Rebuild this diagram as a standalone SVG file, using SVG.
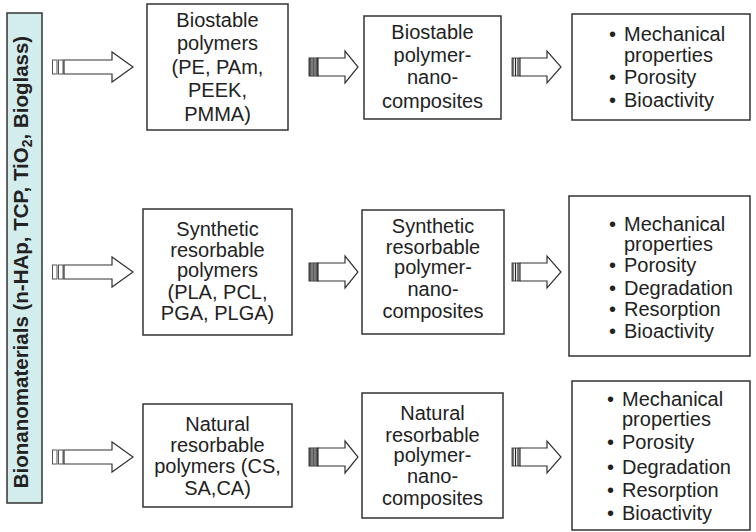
<svg xmlns="http://www.w3.org/2000/svg" width="756" height="532" viewBox="0 0 756 532">
<style>
  .box { fill: #ffffff; stroke: #333333; stroke-width: 1.5; }
  .bar { fill: #d3ecec; stroke: #333333; stroke-width: 1.5; }
  .t { font-family: "Liberation Sans", Arial, sans-serif; font-size: 20px; fill: #222222; }
  .c { text-anchor: middle; }
  .bt { font-family: "Liberation Sans", Arial, sans-serif; font-size: 20.5px; font-weight: bold; fill: #222222; text-anchor: middle; }
  .arr { fill: #ffffff; stroke: #333333; stroke-width: 1.2; stroke-linejoin: miter; }
  .hol { fill: #ffffff; stroke: #555555; stroke-width: 1; }
  .dk { fill: #5a5a5a; stroke: #333333; stroke-width: 1; }
  .ln { stroke: #9a9a9a; stroke-width: 1; }
  .bk { stroke: #222222; stroke-width: 1.2; }
</style>
<defs>
  <g id="arrowA">
    <rect class="hol" x="52.5" y="-7" width="4.5" height="14"/>
    <rect class="hol" x="58.5" y="-7" width="4.5" height="14"/>
    <path class="arr" d="M64,-7 L112,-7 L112,-15 L133,0 L112,15 L112,7 L64,7 Z"/>
  </g>
  <g id="arrowB">
    <rect class="dk" x="309" y="-9" width="9" height="18"/>
    <line class="ln" x1="312" y1="-9" x2="312" y2="9"/>
    <line class="ln" x1="315" y1="-9" x2="315" y2="9"/>
    <path class="arr" d="M318,-9 L345,-9 L345,-16 L358,0 L345,16 L345,9 L318,9 Z"/>
  </g>
  <g id="arrowC">
    <rect class="hol" x="512" y="-9" width="8" height="18"/>
    <line class="bk" x1="513" y1="-9" x2="513" y2="9"/>
    <line class="bk" x1="515.5" y1="-9" x2="515.5" y2="9"/>
    <line class="bk" x1="518" y1="-9" x2="518" y2="9"/>
    <path class="arr" d="M520,-9 L547,-9 L547,-16 L561,0 L547,16 L547,9 L520,9 Z"/>
  </g>
</defs>

<g id="bionanomaterials">
  <rect class="bar" x="7" y="13" width="35" height="490"/>
  <text class="bt" transform="translate(28,262) rotate(-90)">Bionanomaterials (n-HAp, TCP, TiO<tspan font-size="14" dy="4">2</tspan><tspan dy="-4">, Bioglass)</tspan></text>
</g>

<g id="connectors">
  <use href="#arrowA" transform="translate(0,67)"/>
  <use href="#arrowB" transform="translate(0,67)"/>
  <use href="#arrowC" transform="translate(0,67)"/>
  <use href="#arrowA" transform="translate(0,272)"/>
  <use href="#arrowB" transform="translate(0,272)"/>
  <use href="#arrowC" transform="translate(0,272)"/>
  <use href="#arrowA" transform="translate(0,457)"/>
  <use href="#arrowB" transform="translate(0,457)"/>
  <use href="#arrowC" transform="translate(0,457)"/>
</g>

<g id="biostable-polymers">
  <rect class="box" x="147" y="4" width="141" height="126"/>
  <text class="t c" x="217.5" y="27">Biostable</text>
  <text class="t c" x="217.5" y="50">polymers</text>
  <text class="t c" x="217.5" y="74">(PE, PAm,</text>
  <text class="t c" x="217.5" y="97">PEEK,</text>
  <text class="t c" x="217.5" y="121">PMMA)</text>
</g>

<g id="biostable-nanocomposites">
  <rect class="box" x="364" y="16" width="137" height="103"/>
  <text class="t c" x="432.5" y="39">Biostable</text>
  <text class="t c" x="432.5" y="62">polymer-</text>
  <text class="t c" x="432.5" y="84">nano-</text>
  <text class="t c" x="432.5" y="108">composites</text>
</g>

<g id="biostable-properties">
  <rect class="box" x="572" y="14" width="178" height="106"/>
  <text class="t" x="609" y="41">•</text><text class="t" x="624" y="41">Mechanical</text>
  <text class="t" x="624" y="62">properties</text>
  <text class="t" x="609" y="84">•</text><text class="t" x="624" y="84">Porosity</text>
  <text class="t" x="609" y="107">•</text><text class="t" x="624" y="107">Bioactivity</text>
</g>

<g id="synthetic-polymers">
  <rect class="box" x="143" y="209" width="149" height="126"/>
  <text class="t c" x="217.5" y="236">Synthetic</text>
  <text class="t c" x="217.5" y="257">resorbable</text>
  <text class="t c" x="217.5" y="277">polymers</text>
  <text class="t c" x="217.5" y="299">(PLA, PCL,</text>
  <text class="t c" x="217.5" y="320">PGA, PLGA)</text>
</g>

<g id="synthetic-nanocomposites">
  <rect class="box" x="362" y="210" width="142" height="124"/>
  <text class="t c" x="433" y="233">Synthetic</text>
  <text class="t c" x="433" y="254">resorbable</text>
  <text class="t c" x="433" y="274">polymer-</text>
  <text class="t c" x="433" y="296">nano-</text>
  <text class="t c" x="433" y="318">composites</text>
</g>

<g id="synthetic-properties">
  <rect class="box" x="569" y="196" width="181" height="160"/>
  <text class="t" x="609" y="231">•</text><text class="t" x="624" y="231">Mechanical</text>
  <text class="t" x="624" y="251">properties</text>
  <text class="t" x="609" y="272">•</text><text class="t" x="624" y="272">Porosity</text>
  <text class="t" x="609" y="295">•</text><text class="t" x="624" y="295">Degradation</text>
  <text class="t" x="609" y="316">•</text><text class="t" x="624" y="316">Resorption</text>
  <text class="t" x="609" y="338">•</text><text class="t" x="624" y="338">Bioactivity</text>
</g>

<g id="natural-polymers">
  <rect class="box" x="143" y="404" width="149" height="103"/>
  <text class="t c" x="217.5" y="431">Natural</text>
  <text class="t c" x="217.5" y="452">resorbable</text>
  <text class="t c" x="217.5" y="473">polymers (CS,</text>
  <text class="t c" x="217.5" y="495">SA,CA)</text>
</g>

<g id="natural-nanocomposites">
  <rect class="box" x="362" y="393" width="141" height="125"/>
  <text class="t c" x="432.5" y="420">Natural</text>
  <text class="t c" x="432.5" y="442">resorbable</text>
  <text class="t c" x="432.5" y="462">polymer-</text>
  <text class="t c" x="432.5" y="483">nano-</text>
  <text class="t c" x="432.5" y="505">composites</text>
</g>

<g id="natural-properties">
  <rect class="box" x="572" y="381" width="178" height="149"/>
  <text class="t" x="607" y="406">•</text><text class="t" x="622" y="406">Mechanical</text>
  <text class="t" x="622" y="426">properties</text>
  <text class="t" x="607" y="449">•</text><text class="t" x="622" y="449">Porosity</text>
  <text class="t" x="607" y="474">•</text><text class="t" x="622" y="474">Degradation</text>
  <text class="t" x="607" y="497">•</text><text class="t" x="622" y="497">Resorption</text>
  <text class="t" x="607" y="520">•</text><text class="t" x="622" y="520">Bioactivity</text>
</g>
</svg>
